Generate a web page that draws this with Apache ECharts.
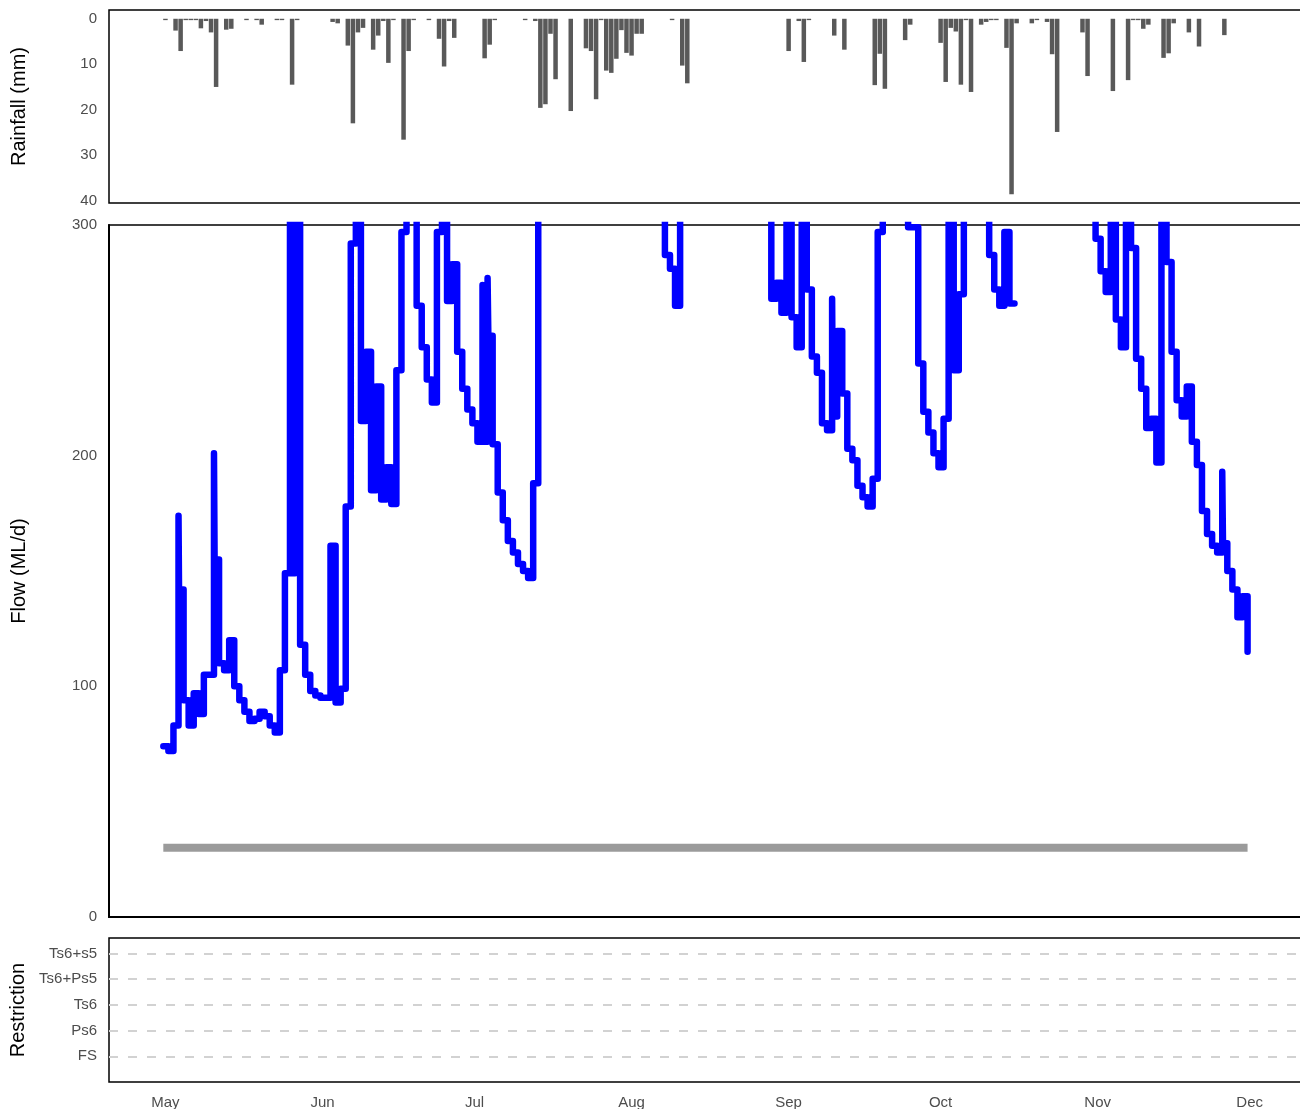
<!DOCTYPE html>
<html>
<head>
<meta charset="utf-8">
<script src="https://cdn.jsdelivr.net/npm/echarts@6/dist/echarts.min.js"></script>
<style>
html,body{margin:0;padding:0;background:#ffffff;}
#chart{width:1300px;height:1109px;}
</style>
</head>
<body>
<div id="chart"></div>
<script>
// ---------------- data ----------------
const monthLabels = ['May', 'Jun', 'Jul', 'Aug', 'Sep', 'Oct', 'Nov', 'Dec'];
const restrictionLevels = ['FS', 'Ps6', 'Ts6', 'Ts6+Ps5', 'Ts6+s5'];
const rainTicks = [0, 10, 20, 30, 40];
const flowTicks = [0, 100, 200, 300];

// rainfall: day index (0 = 1 May) and daily total (mm)
const rainDays = [0, 2, 3, 4, 5, 6, 7, 8, 9, 10, 12, 13, 16, 18, 19, 22, 23, 25, 26,
  33, 34, 36, 37, 38, 39, 41, 42, 43, 44, 45, 47, 48, 49, 52, 54, 55, 56, 57,
  63, 64, 65, 71, 73, 74, 75, 76, 77, 80, 83, 84, 85, 86, 87, 88, 89, 90, 91, 92, 93, 94,
  100, 102, 103, 123, 125, 126, 127, 132, 134, 140, 141, 142, 146, 147,
  153, 154, 155, 156, 157, 158, 159, 161, 162, 163, 164, 166, 167, 168, 171, 172,
  174, 175, 176, 181, 182, 187, 190, 191, 192, 193, 194, 197, 198, 199, 202, 204, 209];
const rainMm = [0.3, 2.6, 7.1, 0.3, 0.3, 0.3, 2.1, 0.5, 3.0, 15.0, 2.4, 2.2, 0.3, 0.3, 1.3, 0.3, 0.3, 14.5, 0.3,
  0.7, 1.0, 5.9, 23.0, 3.0, 2.0, 6.8, 3.7, 0.5, 9.7, 0.3, 26.6, 7.1, 0.3, 0.3, 4.4, 10.5, 0.5, 4.2,
  8.7, 5.7, 0.3, 0.3, 0.5, 19.6, 18.8, 3.3, 13.3, 20.3, 6.5, 7.1, 17.7, 0.3, 11.4, 11.9, 8.8, 2.5, 7.5, 8.1, 3.3, 3.3,
  0.3, 10.3, 14.2, 7.1, 0.5, 9.5, 0.3, 3.7, 6.8, 14.6, 7.7, 15.4, 4.7, 1.3,
  5.3, 13.9, 2.0, 2.8, 14.5, 0.3, 16.1, 1.3, 0.7, 0.3, 0.3, 6.4, 38.6, 1.0, 1.0, 0.3,
  0.7, 7.8, 24.9, 3.0, 12.6, 15.9, 13.5, 0.3, 0.3, 2.2, 1.3, 8.6, 7.6, 1.0, 3.0, 6.1, 3.6];

// daily flow (ML/d) from 1 May to 1 Dec; values above 300 run off the top of the panel, null = not shown
const flowValues = [
  74, 72, 83, 174, 94, 83, 97, 88, 105, 105,
  201, 110, 107, 120, 100, 94, 89, 85, 86, 89,
  87, 83, 80, 107, 149, 350, 350, 118, 105, 98,
  96, 95, 95, 161, 93, 99, 178, 292, 350, 215,
  245, 185, 230, 181, 195, 179, 237, 297, 350, 350,
  265, 247, 233, 223, 297, 350, 267, 283, 245, 229,
  220, 214, 206, 274, 277, 205, 184, 172, 163, 158,
  153, 150, 147, 188, 350, 350, 350, 350, 350, 350,
  350, 350, 350, 350, 350, 350, 350, 350, 350, 350,
  350, 350, 350, 350, 350, 350, 350, 350, 350, 287,
  281, 265, 350, 350, 350, 350, 350, 350, 350, 350,
  350, 350, 350, 350, 350, 350, 350, 350, 350, 350,
  268, 275, 262, 350, 260, 247, 350, 272, 243, 236,
  214, 211, 268, 254, 227, 203, 198, 187, 182, 178,
  190, 297, 350, 350, 350, 350, 350, 299, 299, 240,
  219, 210, 201, 195, 216, 350, 237, 270, 350, 350,
  350, 350, 350, 287, 272, 265, 297, 266, null, null,
  null, null, null, null, null, null, null, null, null, null,
  null, null, null, 350, 294, 280, 271, 350, 259, 247,
  350, 290, 242, 229, 212, 216, 197, 350, 284, 245,
  224, 217, 230, 206, 196, 176, 166, 161, 158, 193,
  150, 142, 130, 139, 115
];
// extra sub-daily readings [day, ML/d] where flow fell back soon after a short peak
const flowIntraday = [
  [3.1, 142], [10.12, 155], [25.5, 149], [63.15, 206], [64.15, 252],
  [132.15, 217], [209.15, 162]
];
const flowThreshold = 30;             // grey reference line (ML/d)
const flowClockOffsetDays = -10 / 24; // flow timestamps sit 10 h before local midnight
const periodEndDay = 214;             // 1 Dec

// ---------------- derived ----------------
const DAY = 86400000;
const start = Date.UTC(2021, 4, 1);
const monthStarts = monthLabels.map((m, i) => Math.round((Date.UTC(2021, 4 + i, 1) - start) / DAY));

const flowData = flowValues.map((v, i) => [i + flowClockOffsetDays, v])
  .concat(flowIntraday.map(p => [p[0] + flowClockOffsetDays, p[1]]))
  .sort((a, b) => a[0] - b[0]);
const thresholdData = [
  [flowClockOffsetDays, flowThreshold],
  [flowValues.length - 1 + flowClockOffsetDays, flowThreshold]
];
const rainData = rainDays.map((d, i) => [d, rainMm[i]]);

const xSpan = periodEndDay - flowClockOffsetDays;
const xMin = flowClockOffsetDays - 0.05 * xSpan;
const xMax = periodEndDay + 0.05 * xSpan;
const rainTop = Math.max(...rainMm);
const rainMin = -0.05 * rainTop;
const rainMax = rainTop * 1.05;

const FONT = '"Liberation Sans", Arial, Helvetica, sans-serif';
const labelStyle = { color: '#4d4d4d', fontSize: 15, fontFamily: FONT };
const nameStyle = { color: '#000000', fontSize: 20, fontFamily: FONT };

const gridBase = {
  left: 109, right: -4, show: true, borderColor: '#000000', borderWidth: 1.5,
  backgroundColor: 'transparent', containLabel: false, outerBoundsMode: 'none'
};

const xBase = {
  type: 'value', min: xMin, max: xMax,
  axisTick: { show: false }, splitLine: { show: false }, axisLine: { show: false }
};

const option = {
  animation: false,
  backgroundColor: '#ffffff',
  grid: [
    Object.assign({}, gridBase, { top: 10, height: 193 }),
    Object.assign({}, gridBase, { top: 225, height: 692 }),
    Object.assign({}, gridBase, { top: 938, height: 144 })
  ],
  xAxis: [
    Object.assign({}, xBase, { gridIndex: 0, axisLabel: { show: false } }),
    Object.assign({}, xBase, {
      gridIndex: 1, axisLabel: { show: false },
      axisLine: { show: true, onZero: false, lineStyle: { color: '#000000', width: 2 } }
    }),
    Object.assign({}, xBase, {
      gridIndex: 2,
      axisLabel: Object.assign({
        show: true, customValues: monthStarts, margin: 13,
        formatter: v => monthLabels[monthStarts.indexOf(Math.round(v))] || ''
      }, labelStyle)
    })
  ],
  yAxis: [
    {
      gridIndex: 0, type: 'value', inverse: true, min: rainMin, max: rainMax,
      axisLine: { show: false }, axisTick: { show: false }, splitLine: { show: false },
      axisLabel: Object.assign({ customValues: rainTicks, margin: 12 }, labelStyle),
      name: 'Rainfall (mm)', nameLocation: 'middle', nameRotate: 90, nameGap: 80,
      nameTextStyle: nameStyle
    },
    {
      gridIndex: 1, type: 'value', min: flowTicks[0], max: flowTicks[flowTicks.length - 1],
      interval: flowTicks[1] - flowTicks[0],
      axisLine: { show: true, onZero: false, lineStyle: { color: '#000000', width: 2 } },
      axisTick: { show: false }, splitLine: { show: false },
      axisLabel: Object.assign({ margin: 12 }, labelStyle),
      name: 'Flow (ML/d)', nameLocation: 'middle', nameRotate: 90, nameGap: 80,
      nameTextStyle: nameStyle
    },
    {
      gridIndex: 2, type: 'value', min: 0, max: restrictionLevels.length + 0.6, interval: 1,
      axisLine: { show: false }, axisTick: { show: false },
      splitLine: {
        show: true, showMinLine: false, showMaxLine: false,
        lineStyle: { color: '#d2d2d2', width: 1.8, type: [9, 10] }
      },
      axisLabel: Object.assign({
        margin: 12,
        formatter: v => (Number.isInteger(v) ? (restrictionLevels[v - 1] || '') : '')
      }, labelStyle),
      name: 'Restriction', nameLocation: 'middle', nameRotate: 90, nameGap: 80,
      nameTextStyle: nameStyle
    }
  ],
  series: [
    {
      name: 'Rainfall', type: 'bar', xAxisIndex: 0, yAxisIndex: 0,
      data: rainData, barWidth: 4.5,
      itemStyle: { color: '#595959' }, silent: true
    },
    {
      name: 'Threshold', type: 'line', xAxisIndex: 1, yAxisIndex: 1,
      data: thresholdData, showSymbol: false, symbol: 'none',
      lineStyle: { color: '#9b9b9b', width: 8, cap: 'butt' }, silent: true
    },
    {
      name: 'Flow', type: 'line', xAxisIndex: 1, yAxisIndex: 1,
      data: flowData, step: 'end', showSymbol: false, symbol: 'none',
      connectNulls: false, clip: true,
      lineStyle: { color: '#0000ff', width: 6.5, cap: 'round', join: 'round' }, silent: true
    }
  ]
};

const chart = echarts.init(document.getElementById('chart'), null, { renderer: 'canvas' });
chart.setOption(option);
</script>
</body>
</html>
